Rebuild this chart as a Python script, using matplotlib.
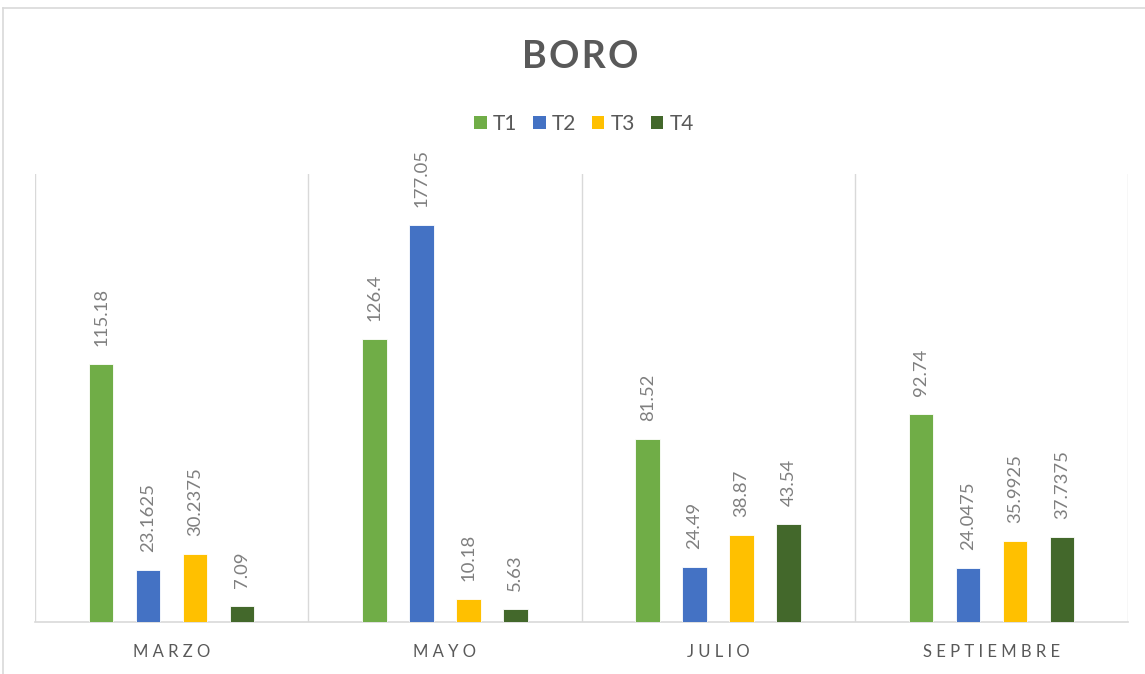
import numpy as np
import matplotlib
matplotlib.use('Agg')
import matplotlib.pyplot as plt
from matplotlib.lines import Line2D
from matplotlib.patches import Patch

plt.rcParams['font.family'] = ['Lato', 'DejaVu Sans']

months = ['MARZO', 'MAYO', 'JULIO', 'SEPTIEMBRE']
series = ['T1', 'T2', 'T3', 'T4']
t1 = [115.18, 126.4, 81.52, 92.74]
t2 = [23.1625, 177.05, 24.49, 24.0475]
t3 = [30.2375, 10.18, 38.87, 35.9925]
t4 = [7.09, 5.63, 43.54, 37.7375]
colors = ['#70AD47', '#4472C4', '#FFC000', '#43682B']

W, H = 1145, 674
fig = plt.figure(figsize=(W / 100, H / 100), dpi=100)
ax = fig.add_axes([35 / W, 1 - 622 / H, (1128 - 35) / W, (622 - 174) / H])

x = np.arange(len(months))
step = 0.172
bw = 0.09
grey = '#595959'

for i, (vals, c) in enumerate(zip([t1, t2, t3, t4], colors)):
    pos = x + (i - 1.5) * step
    ax.bar(pos, vals, width=bw, color=c, edgecolor='white', linewidth=0.6, zorder=3)
    for px, v in zip(pos, vals):
        ax.annotate(f'{v:g}', (px, v), xytext=(0, 13), textcoords='offset points',
                    rotation=90, ha='center', va='bottom', fontsize=13.3, color='#7f7f7f')

ax.set_xlim(-0.5, 3.5)
ax.set_ylim(0, 200)
for b in np.arange(-0.5, 4, 1):
    ax.axvline(b, color='#d9d9d9', linewidth=1, zorder=1)
for s in ['top', 'left', 'right']:
    ax.spines[s].set_visible(False)
ax.spines['bottom'].set_color('#d9d9d9')
ax.spines['bottom'].set_linewidth(1.2)
ax.set_yticks([])
ax.set_xticks(x)
ax.set_xticklabels([' '.join(m) for m in months], fontsize=12, color=grey)
ax.tick_params(axis='x', length=0, pad=16)

fig.text(580 / W, 1 - 57 / H, '\u200a'.join('BORO'), ha='center', va='center',
         fontsize=27, fontweight='bold', color=grey)

handles = [Patch(facecolor=c, edgecolor='none') for c in colors]
fig.legend(handles, series, loc='center', bbox_to_anchor=(584 / W, 1 - 124 / H),
           ncol=4, frameon=False, fontsize=15, handlelength=0.6, handleheight=0.6,
           handletextpad=0.3, columnspacing=0.75, labelcolor=grey)

fig.add_artist(Line2D([3 / W, 3 / W], [0, 1 - 8 / H], color='#d9d9d9', linewidth=1.2))
fig.add_artist(Line2D([3 / W, 1], [1 - 8 / H, 1 - 8 / H], color='#d9d9d9', linewidth=1.2))

fig.savefig('out.png', dpi=100)
